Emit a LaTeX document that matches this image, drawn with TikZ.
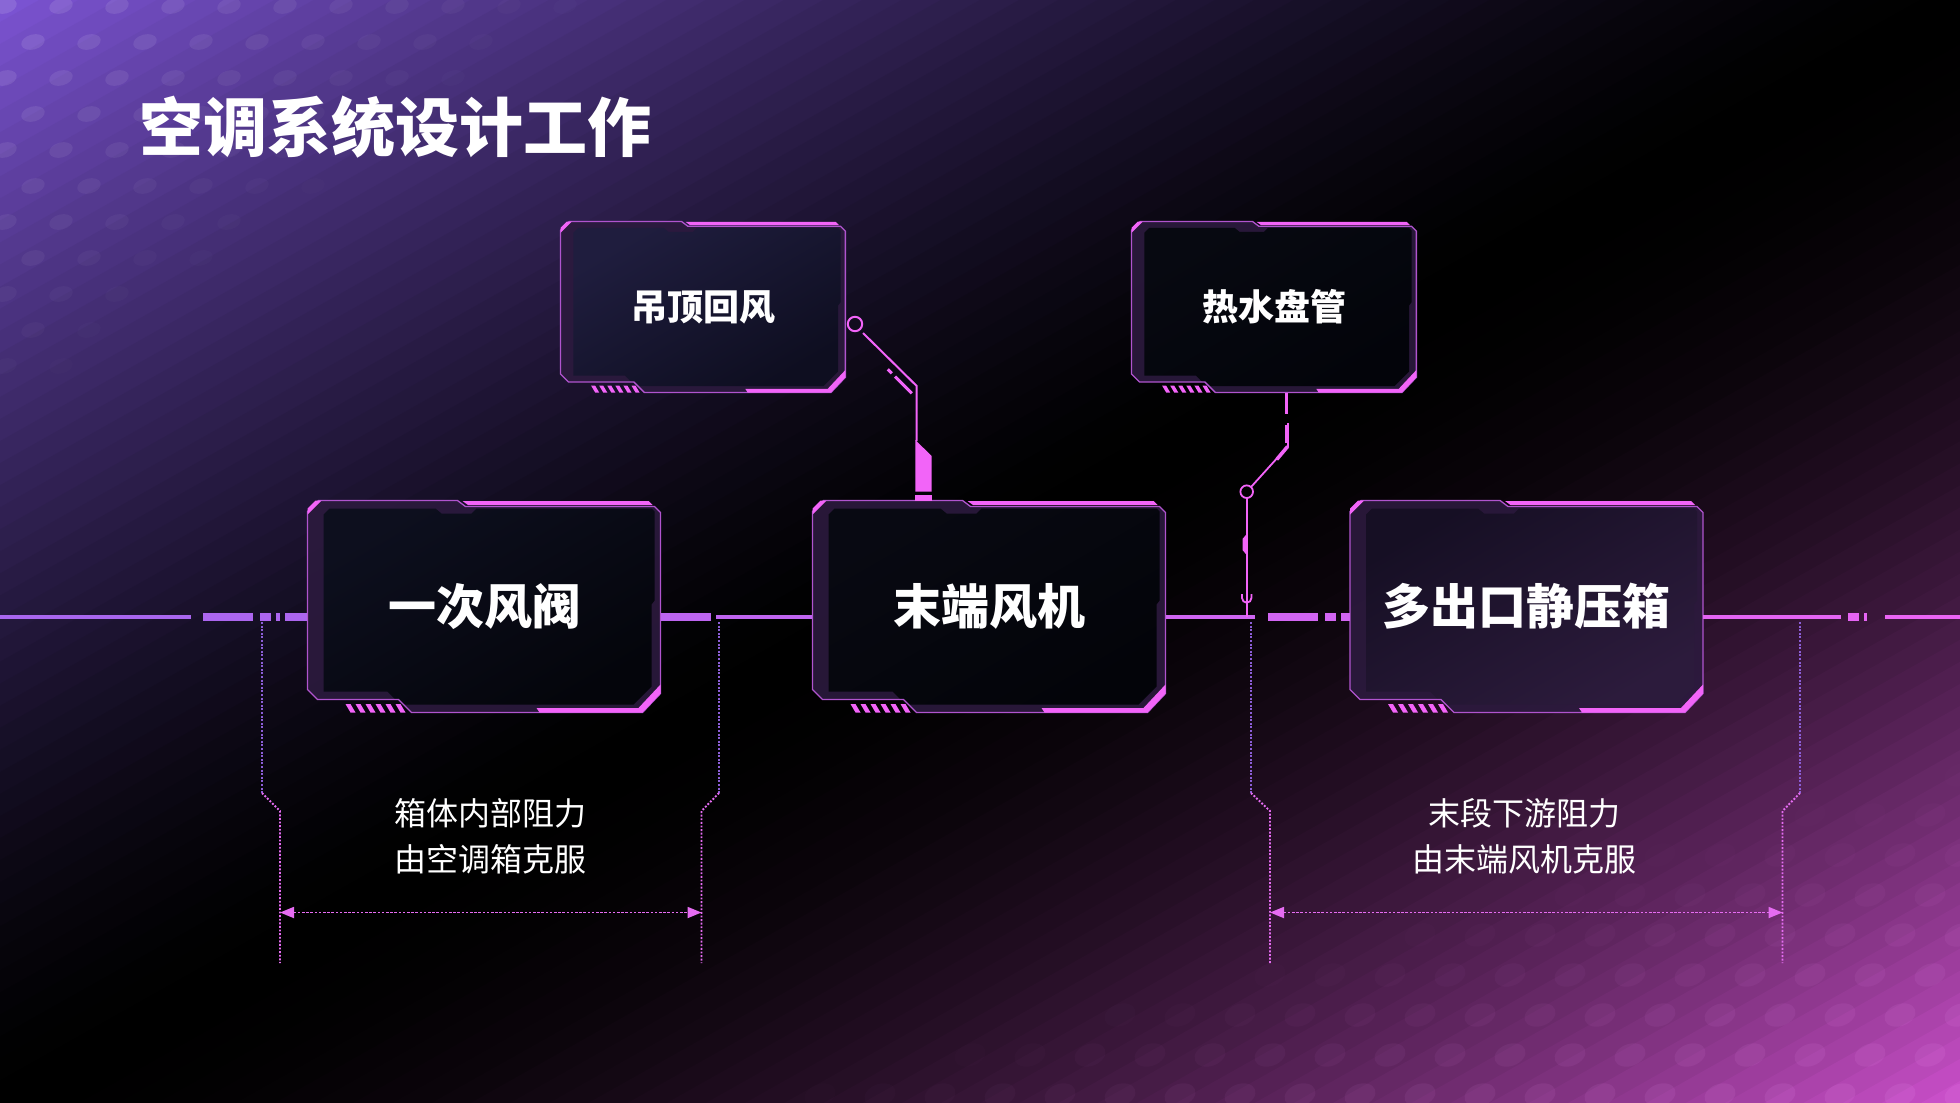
\documentclass[tikz,border=0pt]{standalone}
\usepackage{fontspec}
\newfontfamily\cjk{Noto Sans CJK SC}
\usetikzlibrary{arrows.meta}
\definecolor{tlpurple}{RGB}{124,84,212}
\definecolor{brmag}{RGB}{204,80,204}
\definecolor{lineL}{RGB}{164,102,238}
\definecolor{lineR}{RGB}{234,100,244}
\definecolor{hotpink}{RGB}{242,100,248}
\definecolor{outl}{RGB}{176,84,206}
\definecolor{bezelc}{RGB}{44,26,62}
\definecolor{dimpur}{RGB}{140,94,215}
\definecolor{dotpink}{RGB}{230,108,242}
\definecolor{dotlight}{RGB}{240,150,245}
\definecolor{pIa}{RGB}{13,15,30}\definecolor{pIb}{RGB}{4,5,11}
\definecolor{pIIa}{RGB}{8,9,18}\definecolor{pIIb}{RGB}{3,4,9}
\definecolor{pIIIa}{RGB}{22,15,36}\definecolor{pIIIb}{RGB}{44,27,60}
\definecolor{tIa}{RGB}{31,29,62}\definecolor{tIb}{RGB}{14,14,32}
\definecolor{tIIa}{RGB}{7,9,17}\definecolor{tIIb}{RGB}{3,4,10}
\newcommand\hudframe[5]{%
\begin{scope}[shift={(#1,#2)},scale=#3]
\fill[bezelc,opacity=0.9] (0,11) -- (11,0) -- (150,0) -- (158,6) -- (347,6) -- (353,12) -- (353,193) -- (335,212) -- (104,212) -- (91,199) -- (10,199) -- (0,189) -- cycle;
\shade[top color=#4,bottom color=#5,shading angle=30] (16,14) -- (22,8) -- (128,8) -- (134,13) -- (164,13) -- (169,8) -- (344,8) -- (347,11) -- (347,100) -- (344,104) -- (344,186) -- (326,204) -- (93,204) -- (80,191) -- (16,191) -- cycle;
\draw[outl,line width=1.3pt] (0,11) -- (11,0) -- (150,0) -- (158,6) -- (347,6) -- (353,12) -- (353,193) -- (335,212) -- (104,212) -- (91,199) -- (10,199) -- (0,189) -- cycle;
\fill[hotpink] (0,8) -- (8,0) -- (14,0) -- (0,14) -- cycle;
\fill[hotpink] (155,0.5) -- (341,0.5) -- (345,4.5) -- (160.5,4.5) -- cycle;
\fill[hotpink] (229,207.5) -- (232,212) -- (335,212) -- (353,193) -- (353,184) -- (331,207.5) -- cycle;
\foreach \k in {0,...,5} \fill[hotpink] ({38+10*\k},203.5) -- ({43+10*\k},203.5) -- ({48+10*\k},212) -- ({43+10*\k},212) -- cycle;
\end{scope}}
\tikzset{
 mainthin/.style={line width=4pt},
 mainthick/.style={line width=7.3pt},
 pinkln/.style={draw=hotpink,line width=2pt},
 dotup/.style={draw=dimpur,line width=1.9pt,dash pattern=on 1.9pt off 1.7pt},
 dotlo/.style={draw=dotpink,line width=1.9pt,dash pattern=on 1.9pt off 1.7pt},
 dimarr/.style={draw=dotpink,line width=1.8pt,dash pattern=on 2.6pt off 1.6pt,arrows={Triangle[length=14pt,width=11pt]-Triangle[length=14pt,width=11pt]}},
 boxlbl/.style={text=white,inner sep=0pt,font=\cjk\bfseries\fontsize{48}{54}\selectfont,minimum width=353pt,minimum height=212pt},
 smlbl/.style={text=white,inner sep=0pt,font=\cjk\bfseries\fontsize{36}{42}\selectfont,minimum width=285pt,minimum height=171pt},
 lbl/.style={text=white,align=center,inner sep=0pt,font=\cjk\fontsize{32}{46.5}\selectfont},
}
\begin{document}
\begin{tikzpicture}[x=1pt,y=-1pt]
\useasboundingbox (0,0) rectangle (1960,1103);
% background
\begin{scope}
\clip (0,0) rectangle (1960,1103);
\fill[black] (0,0) rectangle (1960,1103);
\foreach \k in {0,...,99}{
  \pgfmathsetmacro\ta{2*\k/100}
  \pgfmathsetmacro\tb{2*(\k+1.5)/100}
  \pgfmathsetmacro\tm{(\k+0.5)/100}
  \ifdim\tm pt<0.5pt
    \pgfmathsetmacro\ss{max(0.001,(0.5-\tm)*2)}
    \pgfmathsetmacro\inten{100*\ss^1.5}
    \def\bgc{tlpurple}
  \else
    \pgfmathsetmacro\ss{max(0.001,(\tm-0.5)*2)}
    \pgfmathsetmacro\inten{100*\ss^1.9}
    \def\bgc{brmag}
  \fi
  \fill[\bgc!\inten!black] ({\ta*1960+1960},-1103) -- ({\ta*1960-3920},2206) -- ({\tb*1960-3920},2206) -- ({\tb*1960+1960},-1103) -- cycle;
}
\foreach \j in {0,...,12}{\foreach \i in {0,...,13}{
  \pgfmathsetmacro\dx{\i*56+mod(\j,2)*28+5}
  \pgfmathsetmacro\dy{\j*36+6}
  \pgfmathsetmacro\op{0.12*(1-\dx/650-\dy/450)}
  \ifdim\op pt>0.01pt
    \fill[white,opacity=\op,rotate around={15:(\dx,\dy)}] (\dx,\dy) ellipse (12 and 7.5);
  \fi}}
\foreach \j in {0,...,8}{\foreach \i in {0,...,22}{
  \pgfmathsetmacro\dx{1960-\i*60-mod(\j,2)*30}
  \pgfmathsetmacro\dy{1103-\j*40-8}
  \pgfmathsetmacro\op{0.13*(1-(1960-\dx)/1300-(1103-\dy)/360)}
  \ifdim\op pt>0.01pt
    \fill[dotlight,opacity=\op,rotate around={20:(\dx,\dy)}] (\dx,\dy) ellipse (16 and 11);
  \fi}}
\end{scope}
% title
\node[anchor=west,inner sep=0pt,text=white,font=\cjk\bfseries\fontsize{64}{70}\selectfont] (title) at (139,127) {空调系统设计工作};
% frames
\hudframe{307.5}{500.5}{1}{pIa}{pIb}
\hudframe{812.5}{500.5}{1}{pIIa}{pIIb}
\hudframe{1350}{500.5}{1}{pIIIa}{pIIIb}
\hudframe{560.5}{221.5}{0.807}{tIa}{tIb}
\hudframe{1131.5}{221.5}{0.807}{tIIa}{tIIb}
% nodes
\node[boxlbl] (b1) at (484,606.5) {一次风阀};
\node[boxlbl] (b2) at (989,606.5) {末端风机};
\node[boxlbl] (b3) at (1526.5,606.5) {多出口静压箱};
\node[smlbl] (t1) at (703,307) {吊顶回风};
\node[smlbl] (t2) at (1274,307) {热水盘管};
\coordinate (L) at (0,617);
\coordinate (R) at (1960,617);
% main line
\draw[mainthin,draw=lineR!5!lineL] (L) -- (191,617);
\draw[mainthick,draw=lineR!12!lineL] (203,617) -- (253,617) (260,617) -- (271,617) (276,617) -- (280,617) (285,617) -- (b1.west |- L);
\draw[mainthick,draw=lineR!35!lineL] (b1.east |- L) -- (711,617);
\draw[mainthin,draw=lineR!39!lineL] (716,617) -- (b2.west |- L);
\draw[mainthin,draw=lineR!62!lineL] (b2.east |- L) -- (1255,617);
\draw[mainthick,draw=lineR!66!lineL] (1268,617) -- (1318,617) (1325,617) -- (1336,617) (1341,617) -- (b3.west |- L);
\draw[mainthin,draw=lineR!90!lineL] (b3.east |- L) -- (1841,617);
\draw[mainthick,draw=lineR!95!lineL] (1848,617) -- (1859,617) (1864,617) -- (1867,617);
\draw[mainthin,draw=lineR] (1885,617) -- (R);
% dimension brackets
\draw[dotup] (262,622) -- (262,793);
\draw[dotlo] (262,793) -- (280,811) -- (280,963);
\draw[dotup] (719,622) -- (719,793);
\draw[dotlo] (719,793) -- (701.5,811) -- (701.5,963);
\draw[dimarr] (280,912.5) -- (701.5,912.5);
\draw[dotup] (1251,622) -- (1251,793);
\draw[dotlo] (1251,793) -- (1270,811) -- (1270,963);
\draw[dotup] (1800,622) -- (1800,793);
\draw[dotlo] (1800,793) -- (1782.5,811) -- (1782.5,963);
\draw[dimarr] (1270,912.5) -- (1782.5,912.5);
\node[lbl] (n1) at (490,836.5) {箱体内部阻力\\由空调箱克服};
\node[lbl] (n2) at (1524,836.5) {末段下游阻力\\由末端风机克服};
% connector t1 -> b2
\coordinate (k1) at (855,324);
\draw[pinkln] (k1) circle (7.2);
\draw[pinkln] (863,333) -- (916.7,386) -- (916.7,441);
\draw[hotpink,line width=3pt] (887.7,369.3) -- (891.7,373.3) (895,376.6) -- (911.7,393.3);
\fill[hotpink] (915.3,440) -- (931.7,456) -- (931.7,491.5) -- (915.3,491.5) -- cycle;
\fill[hotpink] (915.3,494.5) rectangle (931.7,500.5);
% connector t2 -> main line
\coordinate (k2) at (1246.7,491.7);
\draw[hotpink,line width=3pt] (1286.8,392.5) -- (1286.8,414);
\draw[pinkln] (1287.6,423) -- (1287.6,447);
\fill[hotpink] (1285,425) rectangle (1288.4,443);
\draw[hotpink,line width=1.8pt] (1287.6,446.5) -- (1251.2,486.8);
\draw[hotpink,line width=3.6pt] (1287.6,446.5) -- (1276.7,459.5);
\draw[hotpink,line width=1.8pt] (k2) circle (6.3);
\draw[hotpink,line width=1.8pt] (1246.7,498) -- (1246.7,617);
\fill[hotpink] (1246.7,534) -- (1242.5,539) -- (1242.5,550) -- (1246.7,555) -- cycle;
\draw[hotpink,line width=1.8pt] (1251.4,594) -- (1251.4,598) arc[start angle=0,end angle=180,radius=4.7] -- (1242,594);
\end{tikzpicture}
\end{document}
